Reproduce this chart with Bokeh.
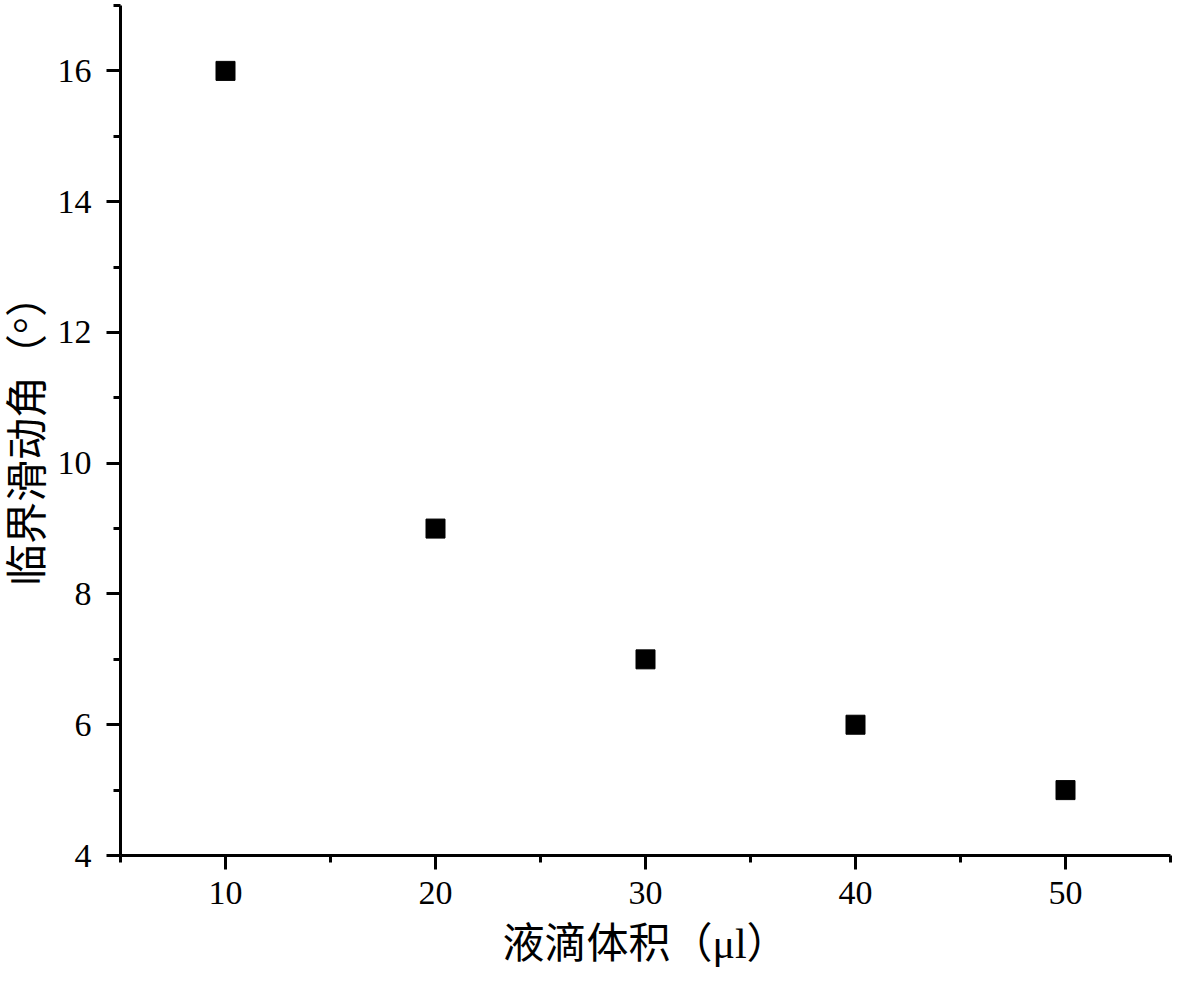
from bokeh.plotting import figure
from bokeh.models import FixedTicker, Range1d
from bokeh.embed import file_html
from bokeh.resources import INLINE

# data
volume = [10, 20, 30, 40, 50]
angle = [16, 9, 7, 6, 5]
x_major = [10, 20, 30, 40, 50]
x_minor = [5, 15, 25, 35, 45, 55]
y_major = [4, 6, 8, 10, 12, 14, 16]
y_minor = [5, 7, 9, 11, 13, 15, 17]
x_title = "液滴体积（μl）"
y_title = "临界滑动角（°）"

p = figure(width=1173, height=973, output_backend="svg", toolbar_location=None,
           x_range=Range1d(5, 55), y_range=Range1d(4, 17))
p.min_border_left = 120
p.min_border_right = 3
p.min_border_top = 5
p.min_border_bottom = 118
p.outline_line_color = None
p.grid.visible = False
p.background_fill_color = "white"
p.border_fill_color = "white"

p.scatter(volume, angle, marker="square", size=19, fill_color="black", line_color="black")

p.xaxis.ticker = FixedTicker(ticks=x_major, minor_ticks=x_minor)
p.yaxis.ticker = FixedTicker(ticks=y_major, minor_ticks=y_minor)

for ax in (p.xaxis[0], p.yaxis[0]):
    ax.axis_line_width = 3
    ax.axis_line_color = "black"
    ax.major_tick_line_width = 3
    ax.minor_tick_line_width = 3
    ax.major_tick_line_color = "black"
    ax.minor_tick_line_color = "black"
    ax.major_tick_out = 14
    ax.major_tick_in = 0
    ax.minor_tick_out = 7
    ax.minor_tick_in = 0
    ax.major_label_text_font = "Liberation Serif"
    ax.major_label_text_font_size = "34px"
    ax.major_label_text_color = "black"
    ax.axis_label_text_font = "Liberation Serif, Noto Sans CJK SC"
    ax.axis_label_text_font_size = "42px"
    ax.axis_label_text_font_style = "normal"
    ax.axis_label_text_color = "black"

p.xaxis.axis_label = x_title
p.yaxis.axis_label = y_title
p.xaxis.major_label_standoff = 12
p.yaxis.major_label_standoff = 15
p.xaxis.axis_label_standoff = 14
p.yaxis.axis_label_standoff = 4

open("out.html", "w").write(file_html(p, INLINE))
